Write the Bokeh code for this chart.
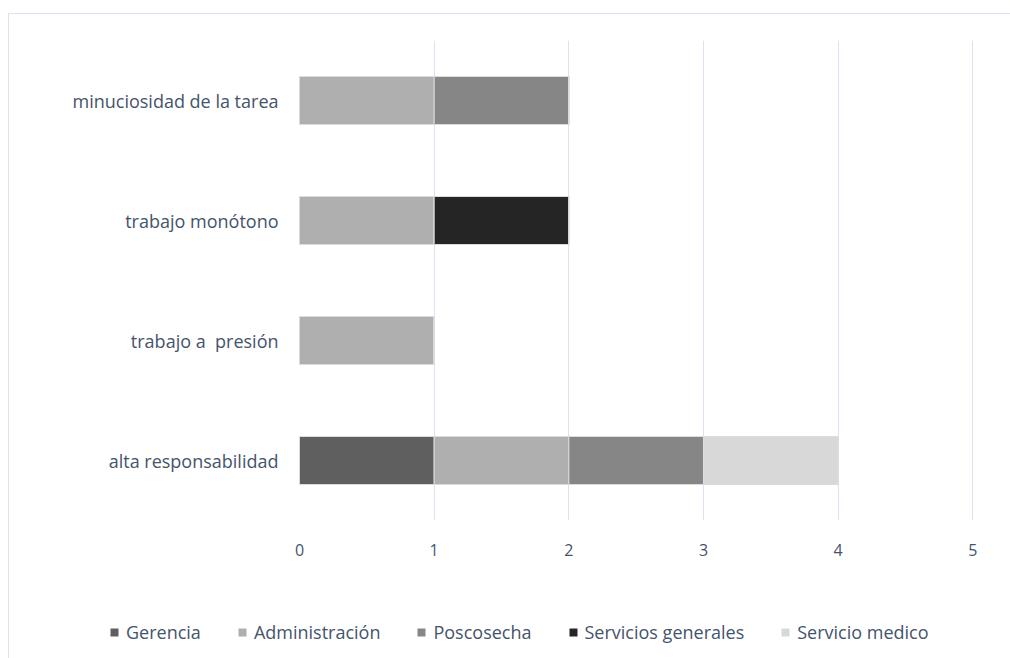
from bokeh.plotting import figure
from bokeh.layouts import column, row
from bokeh.models import ColumnDataSource, Legend, LegendItem, FixedTicker
from bokeh.embed import file_html
from bokeh.resources import INLINE

categories = ["alta responsabilidad", "trabajo a\u00a0 presión", "trabajo monótono", "minuciosidad de la tarea"]
series = ["Gerencia", "Administración", "Poscosecha", "Servicios generales", "Servicio medico"]
gerencia = [1, 0, 0, 0]
administracion = [1, 1, 1, 1]
poscosecha = [1, 0, 0, 1]
servicios_generales = [0, 0, 1, 0]
servicio_medico = [1, 0, 0, 0]
x_ticks = [0, 1, 2, 3, 4, 5]

colors = ["#5f5f5f", "#afafaf", "#868686", "#252525", "#d8d8d8"]
TEXT = "#44546a"
FONT = "Open Sans"

data = {"cat": categories, series[0]: gerencia, series[1]: administracion,
        series[2]: poscosecha, series[3]: servicios_generales, series[4]: servicio_medico}
src = ColumnDataSource(data)

p = figure(y_range=categories, x_range=(0, 5.005), width=1001, height=586,
           output_backend="svg", toolbar_location=None,
           min_border_left=290, min_border_right=37, min_border_top=26, min_border_bottom=80)

renderers = p.hbar_stack(series, y="cat", height=0.4, color=colors, source=src,
                         line_color="#dcdcdc", line_width=1)

p.outline_line_color = None
p.ygrid.grid_line_color = None
p.xgrid.grid_line_color = "#d9e3f1"
p.xgrid.grid_line_width = 1
p.xaxis.ticker = FixedTicker(ticks=x_ticks)
p.y_range.range_padding = 0

for ax in (p.xaxis[0], p.yaxis[0]):
    ax.axis_line_color = None
    ax.major_tick_line_color = None
    ax.minor_tick_line_color = None
    ax.major_label_text_color = TEXT
    ax.major_label_text_font = FONT
p.yaxis.major_label_text_font_size = "18px"
p.xaxis.major_label_text_font_size = "16px"
p.xaxis.major_label_standoff = 17
p.yaxis.major_label_standoff = 15

# legend strip below the chart
lf = figure(width=1001, height=58, x_range=(0, 1), y_range=(0, 1),
            output_backend="svg", toolbar_location=None,
            x_axis_type=None, y_axis_type=None,
            min_border_left=100, min_border_right=0, min_border_top=20, min_border_bottom=0)
lf.outline_line_color = None
lf.grid.grid_line_color = None
dummy = [lf.hbar(y=[0], left=[0], right=[0], height=0, color=c, line_color=None) for c in colors]
items = [LegendItem(label=s, renderers=[r]) for s, r in zip(series, dummy)]
legend = Legend(items=items, orientation="horizontal", location="top_left",
                glyph_width=10, glyph_height=10, label_standoff=7, spacing=36,
                label_text_color=TEXT, label_text_font=FONT, label_text_font_size="18px",
                background_fill_alpha=0, border_line_color=None, padding=0, margin=0)
lf.add_layout(legend, "center")

layout = column(p, row(lf), spacing=0)
layout.styles = {"margin-left": "8px", "margin-top": "13px",
                 "border-left": "1px solid #dae3f1", "border-top": "1px solid #dae3f1"}

open("out.html", "w").write(file_html(layout, INLINE))
